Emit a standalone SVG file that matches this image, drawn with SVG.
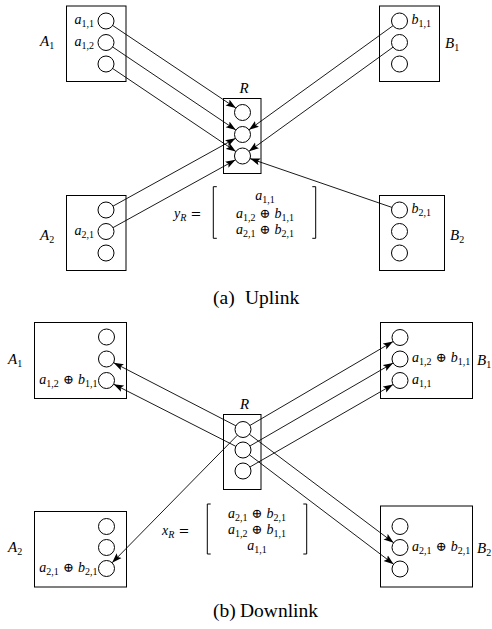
<svg xmlns="http://www.w3.org/2000/svg" width="492" height="629" viewBox="0 0 492 629">
<defs>
<style>
.box{fill:none;stroke:#000;stroke-width:1}
.c{fill:#fff;stroke:#000;stroke-width:1}
.e{fill:none;stroke:#000;stroke-width:0.9;marker-end:url(#ah)}
.br{fill:none;stroke:#000;stroke-width:1}
.m{font-family:"Liberation Serif","DejaVu Serif",serif;font-size:14px;font-style:italic;fill:#000}
.L{font-family:"Liberation Serif","DejaVu Serif",serif;font-size:15px;font-style:italic;fill:#000}
.sub{font-size:10px;font-style:normal}
.subi{font-size:10px;font-style:italic}
.op{font-style:normal;font-family:"DejaVu Serif","Liberation Serif",serif;font-size:13px}
.cap{font-family:"Liberation Serif",serif;font-size:19.5px;fill:#000}
</style>
<marker id="ah" viewBox="0 -4 11 8" refX="10" refY="0" markerWidth="11" markerHeight="8" markerUnits="userSpaceOnUse" orient="auto">
<path d="M0,-3.5 L10,0 L0,3.5 L2,0 z" fill="#000"/>
</marker>
</defs>

<!-- ============ UPLINK ============ -->
<g id="up-A1">
<rect class="box" x="66.5" y="6" width="59.5" height="75.5"/>
<circle class="c" cx="106" cy="21" r="8"/>
<circle class="c" cx="106" cy="42.5" r="8"/>
<circle class="c" cx="106" cy="64" r="8"/>
<text class="m" x="94" y="24" text-anchor="end">a<tspan class="sub" dy="3">1,1</tspan></text>
<text class="m" x="94" y="45.5" text-anchor="end">a<tspan class="sub" dy="3">1,2</tspan></text>
<text class="L" x="40" y="46">A<tspan class="sub" dy="3">1</tspan></text>
</g>
<g id="up-B1">
<rect class="box" x="379.5" y="6" width="60" height="75.5"/>
<circle class="c" cx="399.5" cy="21" r="8"/>
<circle class="c" cx="399.5" cy="42.5" r="8"/>
<circle class="c" cx="399.5" cy="64" r="8"/>
<text class="m" x="411.5" y="24">b<tspan class="sub" dy="3">1,1</tspan></text>
<text class="L" x="445" y="48">B<tspan class="sub" dy="3">1</tspan></text>
</g>
<g id="up-R">
<rect class="box" x="223.5" y="98.5" width="37.5" height="75"/>
<circle class="c" cx="242.5" cy="112.5" r="8"/>
<circle class="c" cx="242.5" cy="134.5" r="8"/>
<circle class="c" cx="242.5" cy="156" r="8"/>
<text class="L" x="239.5" y="92.5">R</text>
</g>
<g id="up-A2">
<rect class="box" x="66.5" y="195.5" width="59.5" height="75"/>
<circle class="c" cx="106" cy="210" r="8"/>
<circle class="c" cx="106" cy="231.5" r="8"/>
<circle class="c" cx="106" cy="253" r="8"/>
<text class="m" x="94" y="234.5" text-anchor="end">a<tspan class="sub" dy="3">2,1</tspan></text>
<text class="L" x="40" y="240">A<tspan class="sub" dy="3">2</tspan></text>
</g>
<g id="up-B2">
<rect class="box" x="379.5" y="195.5" width="65" height="75"/>
<circle class="c" cx="399.5" cy="210" r="8"/>
<circle class="c" cx="399.5" cy="231.5" r="8"/>
<circle class="c" cx="399.5" cy="253" r="8"/>
<text class="m" x="411.5" y="213">b<tspan class="sub" dy="3">2,1</tspan></text>
<text class="L" x="450" y="240">B<tspan class="sub" dy="3">2</tspan></text>
</g>
<g id="up-yR">
<text class="m" x="174" y="218">y<tspan class="subi" dy="3">R</tspan><tspan class="op" dy="-3" font-size="14px"> =</tspan></text>
<path class="br" d="M216.8,186.7 H213.3 V238.3 H216.8"/>
<path class="br" d="M312.3,186.7 H315.7 V238.3 H312.3"/>
<text class="m" x="265" y="200" text-anchor="middle">a<tspan class="sub" dy="3">1,1</tspan></text>
<text class="m" x="265" y="217.5" text-anchor="middle">a<tspan class="sub" dy="3">1,2</tspan><tspan class="op" dy="-3"> ⊕ </tspan>b<tspan class="sub" dy="3">1,1</tspan></text>
<text class="m" x="265" y="234" text-anchor="middle">a<tspan class="sub" dy="3">2,1</tspan><tspan class="op" dy="-3"> ⊕ </tspan>b<tspan class="sub" dy="3">2,1</tspan></text>
</g>
<text class="cap" x="213" y="304">(a)<tspan x="245">Uplink</tspan></text>

<!-- ============ DOWNLINK ============ -->
<g id="dn-A1">
<rect class="box" x="34.5" y="322.5" width="92" height="76"/>
<circle class="c" cx="106.5" cy="337" r="8"/>
<circle class="c" cx="106.5" cy="359" r="8"/>
<circle class="c" cx="106.5" cy="380.5" r="8"/>
<text class="m" x="97.5" y="383.5" text-anchor="end">a<tspan class="sub" dy="3">1,2</tspan><tspan class="op" dy="-3"> ⊕ </tspan>b<tspan class="sub" dy="3">1,1</tspan></text>
<text class="L" x="8" y="364">A<tspan class="sub" dy="3">1</tspan></text>
</g>
<g id="dn-B1">
<rect class="box" x="380.5" y="322.5" width="92" height="76"/>
<circle class="c" cx="400" cy="337.5" r="8"/>
<circle class="c" cx="400" cy="359" r="8"/>
<circle class="c" cx="400" cy="380.5" r="8"/>
<text class="m" x="412" y="362">a<tspan class="sub" dy="3">1,2</tspan><tspan class="op" dy="-3"> ⊕ </tspan>b<tspan class="sub" dy="3">1,1</tspan></text>
<text class="m" x="412" y="383.5">a<tspan class="sub" dy="3">1,1</tspan></text>
<text class="L" x="477" y="365">B<tspan class="sub" dy="3">1</tspan></text>
</g>
<g id="dn-R">
<rect class="box" x="223.5" y="414.5" width="37.5" height="75"/>
<circle class="c" cx="243" cy="429.5" r="8"/>
<circle class="c" cx="243" cy="450" r="8"/>
<circle class="c" cx="243" cy="471" r="8"/>
<text class="L" x="240" y="409">R</text>
</g>
<g id="dn-A2">
<rect class="box" x="34.5" y="511.5" width="92" height="75.5"/>
<circle class="c" cx="106.5" cy="526.5" r="8"/>
<circle class="c" cx="106.5" cy="547.5" r="8"/>
<circle class="c" cx="106.5" cy="568.5" r="8"/>
<text class="m" x="97.5" y="572" text-anchor="end">a<tspan class="sub" dy="3">2,1</tspan><tspan class="op" dy="-3"> ⊕ </tspan>b<tspan class="sub" dy="3">2,1</tspan></text>
<text class="L" x="8" y="552">A<tspan class="sub" dy="3">2</tspan></text>
</g>
<g id="dn-B2">
<rect class="box" x="380.5" y="506" width="92" height="81"/>
<circle class="c" cx="400" cy="526.5" r="8"/>
<circle class="c" cx="400" cy="547.5" r="8"/>
<circle class="c" cx="400" cy="569" r="8"/>
<text class="m" x="412" y="551">a<tspan class="sub" dy="3">2,1</tspan><tspan class="op" dy="-3"> ⊕ </tspan>b<tspan class="sub" dy="3">2,1</tspan></text>
<text class="L" x="477" y="553">B<tspan class="sub" dy="3">2</tspan></text>
</g>
<g id="dn-xR">
<text class="m" x="162" y="534.5">x<tspan class="subi" dy="3">R</tspan><tspan class="op" dy="-3" font-size="14px"> =</tspan></text>
<path class="br" d="M210.7,504 H207.3 V554 H210.7"/>
<path class="br" d="M303.3,504 H306.7 V554 H303.3"/>
<text class="m" x="257" y="517.5" text-anchor="middle">a<tspan class="sub" dy="3">2,1</tspan><tspan class="op" dy="-3"> ⊕ </tspan>b<tspan class="sub" dy="3">2,1</tspan></text>
<text class="m" x="257" y="534" text-anchor="middle">a<tspan class="sub" dy="3">1,2</tspan><tspan class="op" dy="-3"> ⊕ </tspan>b<tspan class="sub" dy="3">1,1</tspan></text>
<text class="m" x="257" y="550" text-anchor="middle">a<tspan class="sub" dy="3">1,1</tspan></text>
</g>
<text class="cap" x="213" y="616.5">(b)<tspan x="240">Downlink</tspan></text>

<!-- ============ CONNECTORS ============ -->
<g id="connectors">
<line class="e" x1="112.65" y1="25.46" x2="235.85" y2="108.04"/>
<line class="e" x1="112.63" y1="46.97" x2="235.87" y2="130.03"/>
<line class="e" x1="112.63" y1="68.47" x2="235.87" y2="151.53"/>
<line class="e" x1="113" y1="206.13" x2="235.5" y2="138.37"/>
<line class="e" x1="113" y1="227.63" x2="235.5" y2="159.87"/>
<line class="e" x1="393.02" y1="25.69" x2="248.98" y2="129.81"/>
<line class="e" x1="393.02" y1="47.19" x2="248.98" y2="151.31"/>
<line class="e" x1="391.93" y1="207.4" x2="250.07" y2="158.6"/>

<line class="e" x1="249.9" y1="425.46" x2="393.1" y2="341.54"/>
<line class="e" x1="249.92" y1="445.99" x2="393.08" y2="363.01"/>
<line class="e" x1="249.93" y1="467" x2="393.07" y2="384.5"/>
<line class="e" x1="235.89" y1="425.83" x2="113.61" y2="362.67"/>
<line class="e" x1="235.87" y1="446.37" x2="113.63" y2="384.13"/>
<line class="e" x1="237.39" y1="435.21" x2="112.11" y2="562.79"/>
<line class="e" x1="249.4" y1="434.31" x2="393.6" y2="542.69"/>
<line class="e" x1="249.38" y1="454.83" x2="393.62" y2="564.17"/>
</g>
</svg>
